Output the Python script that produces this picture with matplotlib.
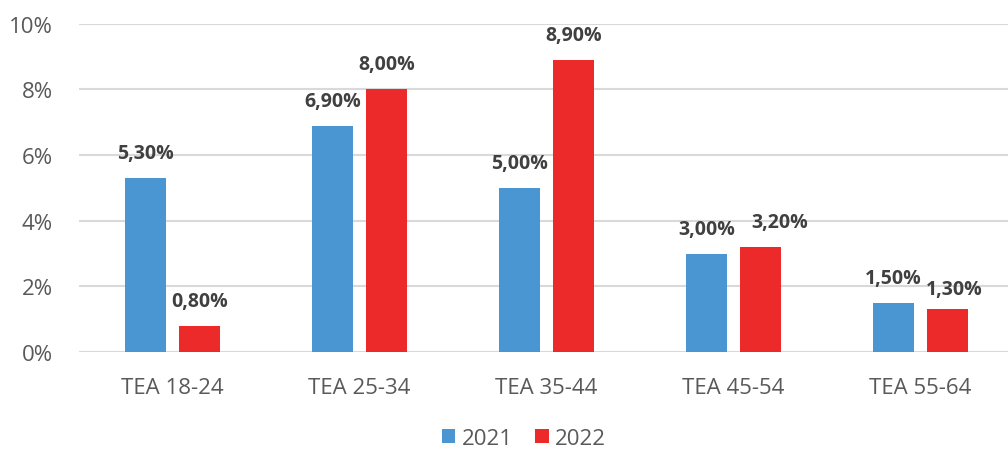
import numpy as np
import matplotlib.pyplot as plt
from matplotlib.ticker import FuncFormatter

categories = ['TEA 18-24', 'TEA 25-34', 'TEA 35-44', 'TEA 45-54', 'TEA 55-64']
vals_2021 = [5.30, 6.90, 5.00, 3.00, 1.50]
vals_2022 = [0.80, 8.00, 8.90, 3.20, 1.30]
series_names = ['2021', '2022']

blue = '#4a96d2'
red = '#ec2a2a'

plt.rcParams['font.family'] = ['Open Sans', 'DejaVu Sans']

fig = plt.figure(figsize=(10.08, 4.52), dpi=100)
ax = fig.add_axes([0.0784, 0.219, 0.9216, 0.726])

x = np.arange(len(categories))
w = 0.22
off = 0.144
b1 = ax.bar(x - off, vals_2021, w, color=blue, label=series_names[0], zorder=3)
b2 = ax.bar(x + off, vals_2022, w, color=red, label=series_names[1], zorder=3)

def fmt(v):
    return f'{v:.2f}'.replace('.', ',') + '%'

# excel nudges a couple of 2022 labels so they clear their neighbours
nudge = {3: (14, 18), 4: (5, 15)}

for bars in (b1, b2):
    for i, r in enumerate(bars):
        h = r.get_height()
        dx, dy = (0, 18)
        if bars is b2 and i in nudge:
            dx, dy = nudge[i]
        ax.annotate(fmt(h), (r.get_x() + r.get_width() / 2, h),
                    xytext=(dx, dy), textcoords='offset points',
                    ha='center', va='center', fontsize=14, fontweight='bold',
                    color='#404040')

ax.set_xlim(-0.5, 4.47)
ax.set_ylim(0, 10)
ax.set_yticks(np.arange(0, 11, 2))
ax.yaxis.set_major_formatter(FuncFormatter(lambda v, p: f'{v:.0f}%'))
ax.set_xticks(x)
ax.set_xticklabels(categories)
ax.tick_params(axis='both', length=0, labelsize=16, labelcolor='#595959')
ax.tick_params(axis='y', pad=19)
ax.tick_params(axis='x', pad=18)
ax.grid(axis='y', color='#d9d9d9', linewidth=1.5, zorder=0)
for s in ax.spines.values():
    s.set_visible(False)

fig.legend(handles=[b1, b2], loc='center', bbox_to_anchor=(0.52, 0.028), ncol=2,
           frameon=False, fontsize=16, handlelength=0.6, handleheight=0.6,
           handletextpad=0.3, columnspacing=1.0, labelcolor='#595959')

fig.savefig('out.png', dpi=100)
